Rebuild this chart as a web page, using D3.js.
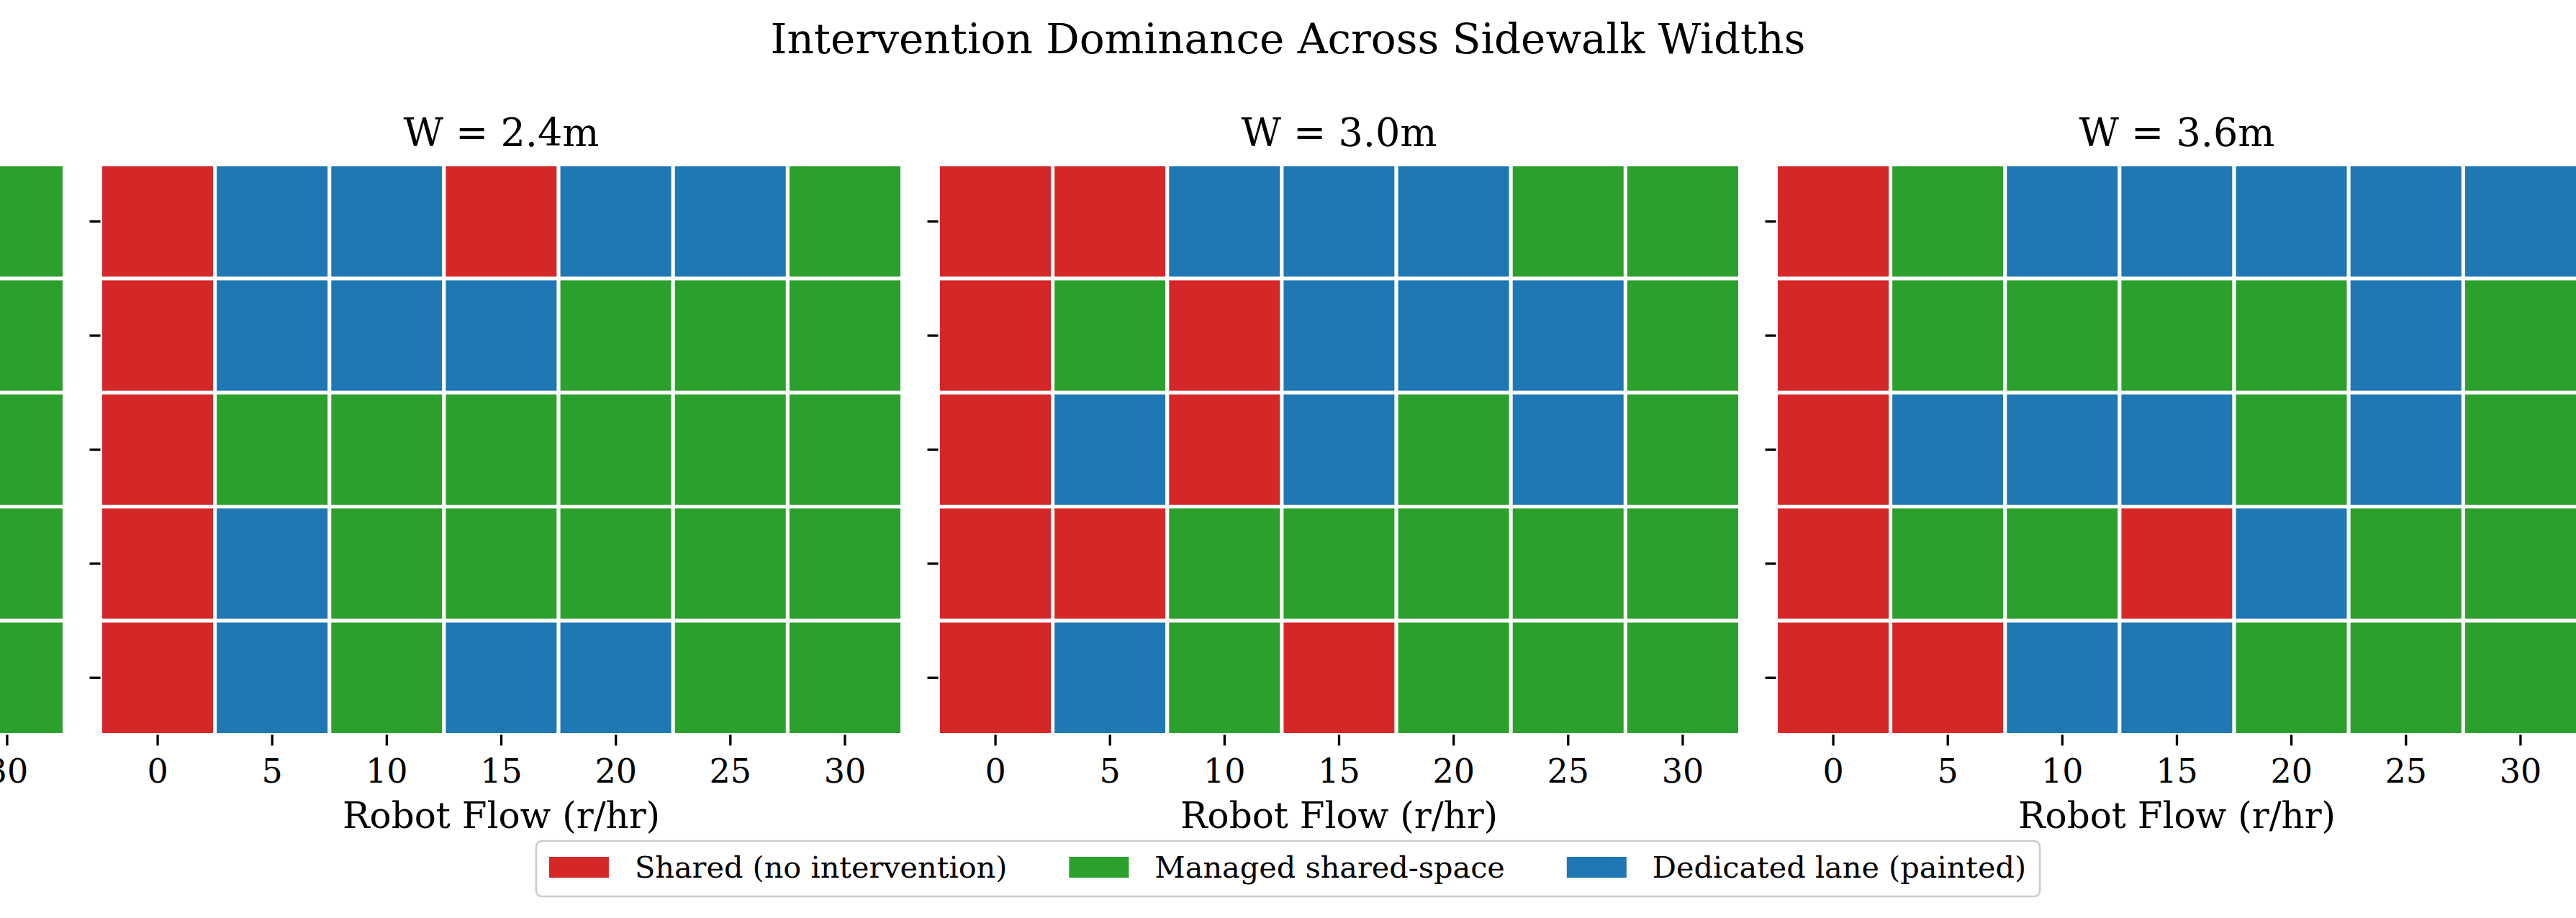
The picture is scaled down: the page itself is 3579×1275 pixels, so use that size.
<!DOCTYPE html>
<html><head><meta charset="utf-8">
<script src="https://cdn.jsdelivr.net/npm/d3@7"></script>
<style>
body{margin:0;background:#fff;}
svg{display:block;}
text{font-family:"DejaVu Serif", serif;fill:#000;}
</style>
</head><body>
<svg id="chart" width="3579" height="1275"></svg>
<script>
// ---------------- DATA ----------------
const flows = [0, 5, 10, 15, 20, 25, 30];          // Robot Flow (r/hr), x categories
const rows = [0, 1, 2, 3, 4];                        // y categories (labels not visible in crop)
const categories = ["Shared (no intervention)", "Managed shared-space", "Dedicated lane (painted)"];
const catCodes = ["S", "M", "D"];
const catColors = ["#d62728", "#2ca02c", "#1f77b4"];
const panelTitles = [null, "W = 2.4m", "W = 3.0m", "W = 3.6m"]; // first panel lies mostly outside the picture
// dominant intervention per cell, rows top to bottom, columns flows 0..30
const gridPartial = [   // only the last column of this panel is visible
  [null, null, null, null, null, null, "M"],
  [null, null, null, null, null, null, "M"],
  [null, null, null, null, null, null, "M"],
  [null, null, null, null, null, null, "M"],
  [null, null, null, null, null, null, "M"]
];
const grid24 = [
  ["S","D","D","S","D","D","M"],
  ["S","D","D","D","M","M","M"],
  ["S","M","M","M","M","M","M"],
  ["S","D","M","M","M","M","M"],
  ["S","D","M","D","D","M","M"]
];
const grid30 = [
  ["S","S","D","D","D","M","M"],
  ["S","M","S","D","D","D","M"],
  ["S","D","S","D","M","D","M"],
  ["S","S","M","M","M","M","M"],
  ["S","D","M","S","M","M","M"]
];
const grid36 = [
  ["S","M","D","D","D","D","D"],
  ["S","M","M","M","M","D","M"],
  ["S","D","D","D","M","D","M"],
  ["S","M","M","S","D","M","M"],
  ["S","S","D","D","M","M","M"]
];
const grids = [gridPartial, grid24, grid30, grid36];

// ---------------- LAYOUT ----------------
const svg = d3.select("#chart");
const FIG_W = 3579;
const panelW = 1114, panelGap = 50, firstX = -1024.5;
const gridTop = 228.5, gridBottom = 1020.5;
const color = d3.scaleOrdinal().domain(catCodes).range(catColors);
const y = d3.scaleBand().domain(rows).range([gridTop, gridBottom]);

svg.append("text").attr("x", FIG_W / 2).attr("y", 74).attr("text-anchor", "middle")
  .style("font-size", "58px").text("Intervention Dominance Across Sidewalk Widths");

grids.forEach((grid, p) => {
  const x0 = firstX + p * (panelW + panelGap);
  const x = d3.scaleBand().domain(flows).range([x0, x0 + panelW]);
  const g = svg.append("g");
  const cells = [];
  grid.forEach((r, i) => r.forEach((c, j) => { if (c) cells.push({row: rows[i], flow: flows[j], c}); }));
  g.selectAll("rect").data(cells).join("rect")
    .attr("x", d => x(d.flow)).attr("y", d => y(d.row))
    .attr("width", x.bandwidth()).attr("height", y.bandwidth())
    .attr("fill", d => color(d.c))
    .attr("stroke", "#fff").attr("stroke-width", 5);

  // only ticks whose position lies on the canvas
  const visFlows = flows.filter(f => x(f) + x.bandwidth() / 2 > -40);
  const xa = g.append("g").attr("transform", `translate(0,${gridBottom})`)
    .call(d3.axisBottom(x).tickValues(visFlows).tickSize(15).tickPadding(8));
  xa.select(".domain").remove();
  xa.selectAll(".tick line").attr("stroke", "#000").attr("stroke-width", 3.3);
  xa.selectAll(".tick text").style("font-size", "46px").attr("font-family", "DejaVu Serif").attr("fill", "#000")
    .attr("dy", null).attr("y", 66);

  if (x0 >= 0) {
    const ya = g.append("g").attr("transform", `translate(${x0},0)`)
      .call(d3.axisLeft(y).tickSize(15).tickFormat(""));
    ya.select(".domain").remove();
    ya.selectAll(".tick line").attr("stroke", "#000").attr("stroke-width", 3.3);

    g.append("text").attr("x", x0 + panelW / 2).attr("y", 1150).attr("text-anchor", "middle")
      .style("font-size", "50px").text("Robot Flow (r/hr)");
  }
  if (panelTitles[p]) {
    g.append("text").attr("x", x0 + panelW / 2).attr("y", 203).attr("text-anchor", "middle")
      .style("font-size", "54px").text(panelTitles[p]);
  }
});

// ---------------- LEGEND ----------------
const leg = svg.append("g");
const box = leg.append("rect").attr("fill", "#fff").attr("stroke", "#cccccc")
  .attr("stroke-width", 2.5).attr("rx", 8).attr("ry", 8);
const items = leg.append("g");
const patchW = 83, patchH = 29, textGap = 36, itemGap = 86;
let cx = 0;
categories.forEach((name, i) => {
  items.append("rect").attr("x", cx).attr("y", 1190).attr("width", patchW).attr("height", patchH)
    .attr("fill", catColors[i]);
  const t = items.append("text").attr("x", cx + patchW + textGap).attr("y", 1219)
    .style("font-size", "41.4px").text(name);
  cx += patchW + textGap + t.node().getComputedTextLength() + itemGap;
});
const innerW = cx - itemGap;
const padL = 18, padR = 19;
const boxW = innerW + padL + padR;
const boxX = FIG_W / 2 - boxW / 2;
box.attr("x", boxX).attr("y", 1168).attr("width", boxW).attr("height", 77);
items.attr("transform", `translate(${boxX + padL},0)`);
</script>
</body></html>
